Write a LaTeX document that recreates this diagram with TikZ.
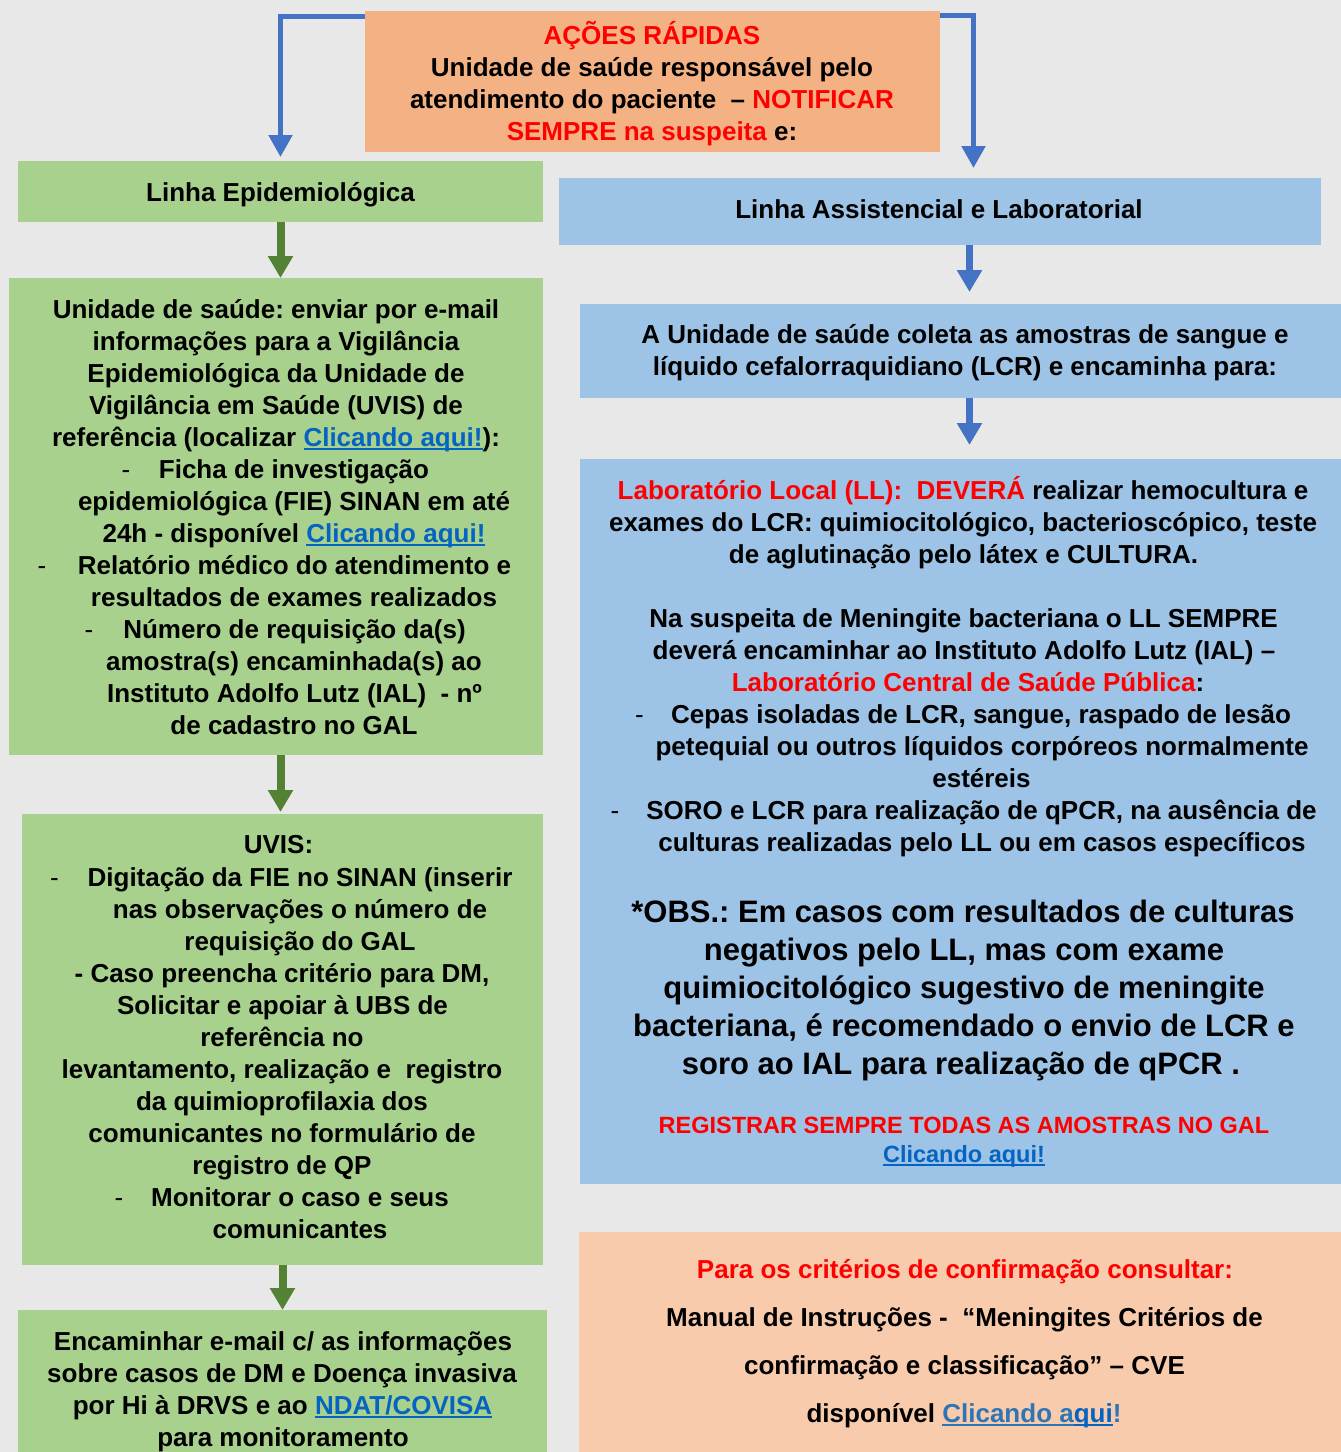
\documentclass[tikz,border=0pt]{standalone}
\usepackage{fontspec}
\setmainfont{Liberation Sans}
\usetikzlibrary{arrows.meta,calc}
\frenchspacing
\definecolor{bgc}{HTML}{E8E8E8}
\definecolor{orA}{HTML}{F4B183}
\definecolor{orB}{HTML}{F8CBAD}
\definecolor{grA}{HTML}{A9D18E}
\definecolor{blA}{HTML}{9DC3E6}
\definecolor{arB}{HTML}{4472C4}
\definecolor{arG}{HTML}{548235}
\definecolor{redA}{HTML}{FF0000}
\definecolor{lnk}{HTML}{0563C1}
\definecolor{lnkB}{HTML}{2E75B6}
\newsavebox\myulbox
\newcommand\myul[1]{\sbox\myulbox{#1}\rlap{\rule[-4pt]{\wd\myulbox}{2pt}}\usebox\myulbox}
\newcommand\mylink[1]{{\color{lnk}\myul{#1}}}
\newcommand\myred[1]{{\color{redA}#1}}
\newcommand\tline[4][]{\node[txt,#1] (#2) at #3 {#4};}
\tikzset{
  box/.style={draw=none,inner sep=0pt,outer sep=0pt,anchor=north west},
  txt/.style={anchor=base,inner sep=0pt,text=black,font=\fontsize{26pt}{32pt}\selectfont\bfseries\frenchspacing},
  dsh/.style={anchor=base,inner sep=0pt,text=black,font=\fontsize{26pt}{32pt}\selectfont},
  big/.style={font=\fontsize{31pt}{38pt}\selectfont\bfseries\frenchspacing},
  small/.style={font=\fontsize{23.5pt}{29pt}\selectfont\bfseries\frenchspacing},
  barrow/.style={draw=arB,line width=5pt,-{Triangle[width=23pt,length=22pt]},arB},
  bsmall/.style={draw=arB,line width=7.5pt,-{Triangle[width=24pt,length=22pt]},arB},
  garrow/.style={draw=arG,line width=8pt,-{Triangle[width=24pt,length=22pt]},arG}
}
\begin{document}
\begin{tikzpicture}[x=1pt,y=-1pt]
\useasboundingbox (0,0) rectangle (1341,1452);
\fill[bgc] (0,0) rectangle (1341,1452);
% boxes
\node[box,fill=orA,minimum width=575pt,minimum height=141pt] (top) at (365,11) {};
\node[box,fill=grA,minimum width=525pt,minimum height=61pt] (epi) at (18,161) {};
\node[box,fill=blA,minimum width=762pt,minimum height=67pt] (assist) at (559,178) {};
\node[box,fill=grA,minimum width=534pt,minimum height=477pt] (box2) at (9,278) {};
\node[box,fill=grA,minimum width=521pt,minimum height=451pt] (uvis) at (22,814) {};
\node[box,fill=grA,minimum width=529pt,minimum height=142pt] (box4) at (18,1310) {};
\node[box,fill=blA,minimum width=761pt,minimum height=94pt] (coll) at (580,304) {};
\node[box,fill=blA,minimum width=761pt,minimum height=725pt] (lab) at (580,459) {};
\node[box,fill=orB,minimum width=762pt,minimum height=220pt] (crit) at (579,1232) {};
% connectors
\draw[barrow] ([yshift=-5.5pt]top.north west) -| ([yshift=4pt]epi.north);
\draw[barrow] ([yshift=-4.5pt]top.north east) -| ([xshift=33.5pt,yshift=10pt]assist.north);
\draw[garrow] (epi.south) -- (epi.south |- box2.north);
\draw[garrow] (box2.south -| epi.south) -- ($(uvis.north -| epi.south)+(0,-2)$);
\draw[garrow] (uvis.south) -- (uvis.south |- box4.north);
\coordinate (rx) at (969.5,0);
\draw[bsmall] (assist.south -| rx) -- ($(coll.north -| rx)+(0,-12)$);
\draw[bsmall] (coll.south -| rx) -- ($(lab.north -| rx)+(0,-14)$);
% top box text
\tline{t1}{(652,44)}{\myred{AÇÕES RÁPIDAS}}
\tline{t2}{(652,76)}{Unidade de saúde responsável pelo}
\tline{t3}{(652,108)}{atendimento do paciente \ – \myred{NOTIFICAR}}
\tline{t4}{(652,140)}{\myred{SEMPRE na suspeita} e:}
\tline{e1}{(280.5,201)}{Linha Epidemiológica}
\tline{a1}{(939,218)}{Linha Assistencial e Laboratorial}
% box2
\tline{b1}{(276,318)}{Unidade de saúde: enviar por e-mail}
\tline{b2}{(276,350)}{informações para a Vigilância}
\tline{b3}{(276,382)}{Epidemiológica da Unidade de}
\tline{b4}{(276,414)}{Vigilância em Saúde (UVIS) de}
\tline{b5}{(276,446)}{referência (localizar \mylink{Clicando aqui!}):}
\node[dsh] (bd1) at (126,478) {-};
\tline{b6}{(294,478)}{Ficha de investigação}
\tline{b7}{(294,510)}{epidemiológica (FIE) SINAN em até}
\tline{b8}{(294,542)}{24h - disponível \mylink{Clicando aqui!}}
\node[dsh] (bd2) at (42,574) {-};
\tline{b9}{(294.5,574)}{Relatório médico do atendimento e}
\tline{b10}{(294,606)}{resultados de exames realizados}
\node[dsh] (bd3) at (89,638) {-};
\tline{b11}{(294.5,638)}{Número de requisição da(s)}
\tline{b12}{(294,670)}{amostra(s) encaminhada(s) ao}
\tline{b13}{(294.5,702)}{Instituto Adolfo Lutz (IAL) \ - nº}
\tline{b14}{(294,734)}{de cadastro no GAL}
% uvis
\tline{u1}{(278.5,853)}{UVIS:}
\node[dsh] (ud1) at (54.5,886) {-};
\tline{u2}{(300,886)}{Digitação da FIE no SINAN (inserir}
\tline{u3}{(300,918)}{nas observações o número de}
\tline{u4}{(300,950)}{requisição do GAL}
\tline{u5}{(282,982)}{- Caso preencha critério para DM,}
\tline{u6}{(282.5,1014)}{Solicitar e apoiar à UBS de}
\tline{u7}{(282,1046)}{referência no}
\tline{u8}{(282,1078)}{levantamento, realização e \ registro}
\tline{u9}{(282,1110)}{da quimioprofilaxia dos}
\tline{u10}{(282,1142)}{comunicantes no formulário de}
\tline{u11}{(282,1174)}{registro de QP}
\node[dsh] (ud2) at (119,1206) {-};
\tline{u12}{(300,1206)}{Monitorar o caso e seus}
\tline{u13}{(300,1238)}{comunicantes}
% box4
\tline{f1}{(283,1350)}{Encaminhar e-mail c/ as informações}
\tline{f2}{(282,1382)}{sobre casos de DM e Doença invasiva}
\tline{f3}{(282.5,1414)}{por Hi à DRVS e ao \mylink{NDAT/COVISA}}
\tline{f4}{(283,1446)}{para monitoramento}
% coll
\tline{c1}{(965,343)}{A Unidade de saúde coleta as amostras de sangue e}
\tline{c2}{(965,375)}{líquido cefalorraquidiano (LCR) e encaminha para:}
% lab
\tline{l1}{(963,499)}{\myred{Laboratório Local (LL): \ DEVERÁ} realizar hemocultura e}
\tline{l2}{(963,531)}{exames do LCR: quimiocitológico, bacterioscópico, teste}
\tline{l3}{(963.5,563)}{de aglutinação pelo látex e CULTURA.}
\tline{l4}{(963.5,627)}{Na suspeita de Meningite bacteriana o LL SEMPRE}
\tline{l5}{(964,659)}{deverá encaminhar ao Instituto Adolfo Lutz (IAL) –}
\tline{l6}{(968,691)}{\myred{Laboratório Central de Saúde Pública}:}
\node[dsh] (ld1) at (639.5,723) {-};
\tline{l7}{(981,723)}{Cepas isoladas de LCR, sangue, raspado de lesão}
\tline{l8}{(982,755)}{petequial ou outros líquidos corpóreos normalmente}
\tline{l9}{(981.5,787)}{estéreis}
\node[dsh] (ld2) at (615,819) {-};
\tline{l10}{(981.5,819)}{SORO e LCR para realização de qPCR, na ausência de}
\tline{l11}{(982,851)}{culturas realizadas pelo LL ou em casos específicos}
\tline[big]{o1}{(963,922)}{*OBS.: Em casos com resultados de culturas}
\tline[big]{o2}{(964,960)}{negativos pelo LL, mas com exame}
\tline[big]{o3}{(964,998)}{quimiocitológico sugestivo de meningite}
\tline[big]{o4}{(964,1036)}{bacteriana, é recomendado o envio de LCR e}
\tline[big]{o5}{(961,1074)}{soro ao IAL para realização de qPCR .}
\tline[small]{r1}{(964,1133)}{\myred{REGISTRAR SEMPRE TODAS AS AMOSTRAS NO GAL}}
\tline[small]{r2}{(964,1162)}{\mylink{Clicando aqui!}}
% crit
\tline{k1}{(965,1278)}{\myred{Para os critérios de confirmação consultar:}}
\tline{k2}{(964.5,1326)}{Manual de Instruções - \ “Meningites Critérios de}
\tline{k3}{(964.5,1374)}{confirmação e classificação” – CVE}
\tline{k4}{(964,1422)}{disponível {\color{lnkB}\myul{Clicando a}}{\color{lnk}\myul{qui}}{\color{lnkB}!}}
\end{tikzpicture}
\end{document}
